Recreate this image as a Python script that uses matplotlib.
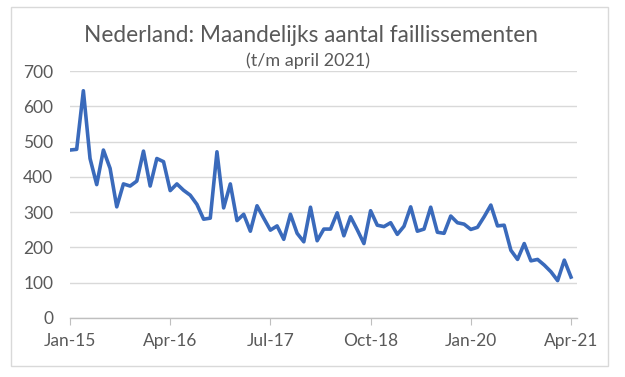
import matplotlib
matplotlib.use("Agg")
import matplotlib.pyplot as plt
from matplotlib.patches import Rectangle

faillissementen = [
    476, 478, 644, 452, 378, 476, 424, 315, 380, 374, 388, 473,   # 2015
    374, 452, 443, 361, 380, 362, 348, 322, 280, 283, 471, 312,   # 2016
    380, 276, 294, 246, 318, 283, 249, 261, 223, 294, 240, 216,   # 2017
    314, 219, 252, 252, 298, 233, 287, 250, 211, 304, 263, 259,   # 2018
    270, 237, 260, 315, 246, 252, 314, 243, 240, 289, 270, 266,   # 2019
    251, 257, 287, 320, 261, 263, 192, 166, 211, 162, 166, 150,   # 2020
    131, 106, 164, 116,                                           # 2021
]
tick_pos = [0, 15, 30, 45, 60, 75]
tick_labels = ["Jan-15", "Apr-16", "Jul-17", "Oct-18", "Jan-20", "Apr-21"]
y_ticks = [0, 100, 200, 300, 400, 500, 600, 700]

plt.rcParams["font.family"] = ["Lato", "DejaVu Sans"]
tekst = "#595959"

fig = plt.figure(figsize=(6.25, 3.77), dpi=100)
ax = fig.add_axes([70 / 625, 1 - 318 / 377, 507 / 625, 247 / 377])

# kader om de grafiek
fig.patches.append(Rectangle((11 / 625, 1 - 366 / 377), 597 / 625, 359 / 377,
                             transform=fig.transFigure, fill=False,
                             edgecolor="#d9d9d9", linewidth=1))

maanden = list(range(len(faillissementen)))
ax.plot(maanden, faillissementen, color="#3a6abb", linewidth=2.6,
        solid_joinstyle="round", zorder=3)

ax.set_xlim(0, 75.9)
ax.set_ylim(0, 700)
ax.set_yticks(y_ticks)
ax.set_xticks(tick_pos)
ax.set_xticklabels(tick_labels)
ax.yaxis.grid(True, color="#d9d9d9", linewidth=1)
ax.set_axisbelow(True)

for s in ["top", "right", "left"]:
    ax.spines[s].set_visible(False)
ax.spines["bottom"].set_color("#bfbfbf")
ax.spines["bottom"].set_linewidth(1)

ax.tick_params(axis="y", length=0, pad=12, labelsize=12.5, labelcolor=tekst)
ax.tick_params(axis="x", length=5, color="#bfbfbf", pad=6, labelsize=12.5,
               labelcolor=tekst)

fig.text(0.497, 1 - 36 / 377, "Nederland: Maandelijks aantal faillissementen",
         ha="center", va="center", fontsize=16.3, color=tekst)
fig.text(0.493, 1 - 61 / 377, "(t/m april 2021)", ha="center", va="center",
         fontsize=13, color=tekst)

fig.savefig("out.png", dpi=100)
